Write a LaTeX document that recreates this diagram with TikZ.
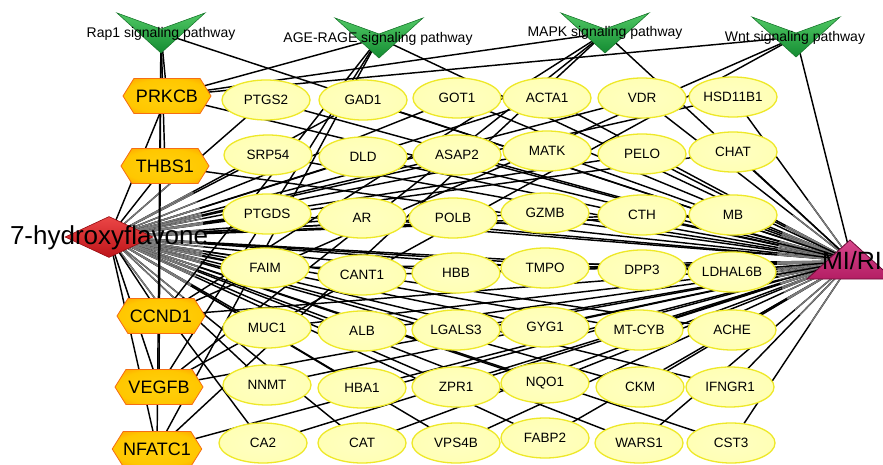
\documentclass[tikz,border=0pt]{standalone}
\usepackage{fontspec}
\setmainfont{Liberation Sans}
\usetikzlibrary{shapes.geometric,shapes.symbols,calc}
\pgfdeclarelayer{back}
\pgfdeclarelayer{edges}
\pgfsetlayers{back,edges,main}

\definecolor{tline}{RGB}{238,232,40}
\definecolor{hline}{RGB}{245,110,20}
\definecolor{dtop}{RGB}{235,70,70}
\definecolor{dbot}{RGB}{190,20,25}
\definecolor{dline}{RGB}{150,10,15}
\definecolor{gtop}{RGB}{80,200,100}
\definecolor{gbot}{RGB}{20,140,50}
\definecolor{gline}{RGB}{25,120,45}
\definecolor{mtop}{RGB}{215,70,140}
\definecolor{mbot}{RGB}{180,30,100}
\definecolor{mline}{RGB}{110,10,55}
\definecolor{bundle}{RGB}{125,125,125}

% soft fills: pale yellow ellipses, gold-to-orange hexagons
\pgfdeclareradialshading{targetshade}{\pgfpoint{0bp}{0bp}}{%
  rgb(0bp)=(1,1,0.76);rgb(30bp)=(1,1,0.70);rgb(45bp)=(1,1,0.55);
  rgb(55bp)=(1,0.99,0.40);rgb(80bp)=(1,0.99,0.40)}
\pgfdeclareradialshading{hubshade}{\pgfpoint{0bp}{0bp}}{%
  rgb(0bp)=(1,0.82,0.05);rgb(24bp)=(1,0.78,0.0);rgb(37bp)=(1,0.60,0.0);
  rgb(47bp)=(1,0.42,0.0);rgb(80bp)=(1,0.40,0.0)}

\tikzset{
  target/.style={ellipse, minimum width=88pt, minimum height=40pt, inner sep=0pt,
    draw=tline, line width=1.3pt, shading=targetshade,
    font=\fontsize{13.5}{15}\selectfont},
  hub/.style={signal, signal to=east and west, signal pointer angle=116,
    minimum width=88pt, minimum height=35pt, inner sep=0pt,
    draw=hline, line width=0.8pt, shading=hubshade,
    font=\fontsize{18}{20}\selectfont},
  plabel/.style={inner sep=0pt, font=\fontsize{14}{16}\selectfont},
  biglabel/.style={inner sep=0pt, font=\fontsize{26}{28}\selectfont},
  link/.style={black, line width=1.45pt},
  bundlelink/.style={bundle, line width=1.2pt},
  vmark/.pic={
    \shade[top color=gtop, bottom color=gbot, draw=gline, line width=0.6pt]
      (-44,-20) -- (0,-4) -- (44,-20) -- (0,20) -- cycle;
  }
}

\begin{document}
\begin{tikzpicture}[x=1pt,y=-1pt]
\clip (0,0) rectangle (883,465);
\begin{pgfonlayer}{back}
\fill[white] (0,0) rectangle (883,465);
\end{pgfonlayer}

% pathway markers
\pic at (161,33) {vmark};
\pic at (379,38) {vmark};
\pic at (605,33) {vmark};
\pic at (796,37) {vmark};
\coordinate (rap) at (161,33);
\coordinate (age) at (379,38);
\coordinate (mapk) at (605,33);
\coordinate (wnt) at (796,37);
\node[plabel] (raplbl) at (161,34) {Rap1 signaling pathway};
\node[plabel] (agelbl) at (378,39) {AGE-RAGE signaling pathway};
\node[plabel] (mapklbl) at (605,33) {MAPK signaling pathway};
\node[plabel] (wntlbl) at (795,38) {Wnt signaling pathway};

% compound
\node[diamond, minimum width=88pt, minimum height=41pt, inner sep=0pt,
      top color=dtop, bottom color=dbot, draw=dline, line width=0.6pt] (hf) at (109,237) {};
\node[biglabel] (hflbl) at (109,238) {7-hydroxyflavone};

% disease
\shade[top color=mtop, bottom color=mbot, draw=mline, line width=0.8pt]
  (850,240) -- (893,279) -- (807,279) -- cycle;
\node[biglabel, font=\fontsize{25}{27}\selectfont] (mi) at (852,261) {MI/RI};

% core targets
\node[hub] (prkcb) at (167,96) {PRKCB};
\node[hub] (thbs1) at (165,166) {THBS1};
\node[hub] (ccnd1) at (161,316) {CCND1};
\node[hub] (vegfb) at (159,387) {VEGFB};
\node[hub] (nfatc1) at (157,449) {NFATC1};

% targets
\node[target] (ptgs2) at (266,100) {PTGS2};
\node[target] (gad1) at (363,100) {GAD1};
\node[target] (got1) at (457,98) {GOT1};
\node[target] (acta1) at (547,98) {ACTA1};
\node[target] (vdr) at (642,98) {VDR};
\node[target] (hsd) at (733,97) {HSD11B1};

\node[target] (srp54) at (268,155) {SRP54};
\node[target] (dld) at (363,157) {DLD};
\node[target] (asap2) at (457,155) {ASAP2};
\node[target] (matk) at (547,151) {MATK};
\node[target] (pelo) at (642,154) {PELO};
\node[target] (chat) at (733,152) {CHAT};

\node[target] (ptgds) at (267,214) {PTGDS};
\node[target] (ar) at (362,218) {AR};
\node[target] (polb) at (453,218) {POLB};
\node[target] (gzmb) at (545,213) {GZMB};
\node[target] (cth) at (642,215) {CTH};
\node[target] (mb) at (733,215) {MB};

\node[target] (faim) at (265,268) {FAIM};
\node[target] (cant1) at (362,275) {CANT1};
\node[target] (hbb) at (456,273) {HBB};
\node[target] (tmpo) at (545,268) {TMPO};
\node[target] (dpp3) at (642,270) {DPP3};
\node[target] (ldh) at (732,272) {LDHAL6B};

\node[target] (muc1) at (267,328) {MUC1};
\node[target] (alb) at (362,331) {ALB};
\node[target] (lgals3) at (456,330) {LGALS3};
\node[target] (gyg1) at (545,327) {GYG1};
\node[target] (mtcyb) at (639,330) {MT-CYB};
\node[target] (ache) at (732,330) {ACHE};

\node[target] (nnmt) at (267,385) {NNMT};
\node[target] (hba1) at (362,388) {HBA1};
\node[target] (zpr1) at (456,387) {ZPR1};
\node[target] (nqo1) at (545,383) {NQO1};
\node[target] (ckm) at (640,387) {CKM};
\node[target] (ifngr1) at (730,387) {IFNGR1};

\node[target] (ca2) at (263,443) {CA2};
\node[target] (cat) at (362,443) {CAT};
\node[target] (vps4b) at (456,443) {VPS4B};
\node[target] (fabp2) at (545,438) {FABP2};
\node[target] (wars1) at (639,443) {WARS1};
\node[target] (cst3) at (731,443) {CST3};

% connectors, kept beneath the nodes
\begin{pgfonlayer}{edges}
\def\targets{ptgs2,gad1,got1,acta1,vdr,hsd,srp54,dld,asap2,matk,pelo,chat,
  ptgds,ar,polb,gzmb,cth,mb,faim,cant1,hbb,tmpo,dpp3,ldh,muc1,alb,lgals3,gyg1,
  mtcyb,ache,nnmt,hba1,zpr1,nqo1,ckm,ifngr1,ca2,cat,vps4b,fabp2,wars1,cst3}
\foreach \t in \targets{
  \draw[link] (hf.center) -- (\t.center);
  \draw[link] (mi.center) -- (\t.center);
}
% the dense bundles close to the compound and the disease read grey
\foreach \t in \targets{
  \draw[bundlelink] (hf.center) -- ($(hf.center)!95pt!(\t.center)$);
  \draw[bundlelink] (mi.center) -- ($(mi.center)!75pt!(\t.center)$);
}
\foreach \h in {prkcb,thbs1,ccnd1,vegfb,nfatc1}{
  \draw[link] (hf.center) -- (\h.center);
  \draw[link] (mi.center) -- (\h.center);
}
\foreach \p in {rap,age,mapk,wnt}{\draw[link] (\p) -- (mi.center);}
\foreach \h in {prkcb,thbs1,vegfb,nfatc1}{\draw[link] (rap) -- (\h.center);}
\foreach \h in {prkcb,ccnd1,vegfb,nfatc1}{\draw[link] (age) -- (\h.center);}
\foreach \h in {prkcb,ccnd1,vegfb,nfatc1}{\draw[link] (mapk) -- (\h.center);}
\foreach \h in {prkcb,ccnd1,vegfb}{\draw[link] (wnt) -- (\h.center);}
\end{pgfonlayer}
\end{tikzpicture}
\end{document}
